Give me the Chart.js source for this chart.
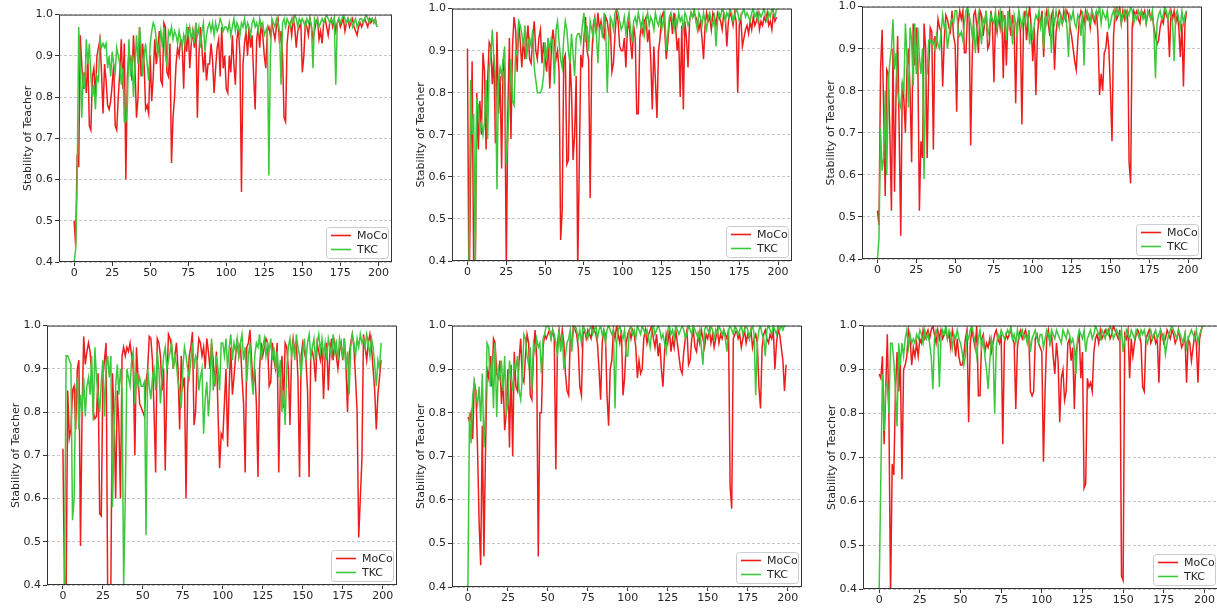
<html>
<head>
<script src="https://cdn.jsdelivr.net/npm/chart.js@4.4.0/dist/chart.umd.min.js"></script>
<style>
body { margin:0; background:#fff; overflow:hidden; width:1217px; height:609px; position:relative; }
canvas { position:absolute; }
</style>
</head>
<body>
<script>

var xTicks = [0,25,50,75,100,125,150,175,200];
var yTicks = [0.4,0.5,0.6,0.7,0.8,0.9,1.0];
var seriesNames = ['MoCo','TKC'];
var yTitle = 'Stability of Teacher';

// panel 1 (top left)
var moco1 = [
.50,.44,.66,.63,.95,.88,.82,.86,.81,.90, .73,.72,.85,.87,.80,.90,.92,.94,.86,.76,
.88,.84,.78,.77,.79,.83,.88,.73,.72,.80, .86,.94,.82,.93,.60,.85,.91,.89,.84,.95,
.87,.75,.80,.97,.85,.93,.88,.77,.78,.76, .90,.79,.85,.94,.88,.92,.96,.84,.83,.98,
.97,.86,.85,.93,.64,.75,.80,.88,.92,.90, .94,.93,.82,.95,.91,.97,.87,.93,.96,.92,
.98,.75,.90,.97,.92,.86,.91,.84,.88,.88, .93,.89,.81,.87,.92,.94,.85,.97,.87,.90,
.82,.81,.90,.86,.95,.88,.83,.94,.97,.90, .57,.88,.93,.96,.90,.97,.92,.95,.85,.77,
.94,.97,.92,.98,.95,.90,.87,.96,.97,.95, .98,.96,.94,.97,.99,.93,.96,.90,.75,.74,
.93,.97,.98,.95,.99,.97,.92,.96,.97,.98, .86,.90,.98,.97,.95,.99,.97,.94,.96,.98,
.99,.94,.96,.93,.98,.99,.97,.95,.98,.99, .97,.99,.96,.98,.99,.97,.98,.99,.96,.98,
.99,.97,.98,.99,.97,.96,.95,.97,.98,.97, .98,.99,.98,.97,.99,.98,.99,.98,.99,.97];
var tkc1 = [
.40,.43,.60,.97,.88,.75,.86,.82,.94,.88, .93,.85,.80,.83,.77,.85,.84,.94,.92,.93,
.92,.93,.87,.90,.85,.91,.88,.86,.92,.90, .88,.83,.87,.74,.74,.78,.94,.85,.90,.80,
.88,.95,.88,.97,.92,.85,.90,.93,.88,.84, .93,.96,.98,.97,.94,.90,.93,.96,.92,.97,
.90,.88,.96,.95,.97,.94,.96,.95,.93,.96, .94,.92,.95,.93,.97,.95,.97,.94,.96,.93,
.98,.95,.97,.92,.96,.98,.91,.95,.97,.98, .96,.98,.95,.98,.96,.97,.99,.98,.96,.97,
.97,.96,.98,.95,.97,.99,.96,.98,.97,.95, .98,.97,.99,.96,.98,.97,.95,.98,.99,.97,
.98,.96,.99,.97,.98,.95,.96,.97,.61,.90, .99,.98,.97,.99,.98,.96,.83,.98,.99,.97,
.99,.98,.97,.99,.98,1.0,.99,.97,.99,.98, .99,.98,.97,.99,.98,.99,.97,.87,.99,.98,
.99,.97,.98,.99,.98,.99,1.0,.99,.98,.99, .98,.99,.83,.98,.99,.98,.99,1.0,.99,.98,
.99,.98,.99,.97,.98,.99,.97,.98,.99,.99, .98,.99,1.0,.99,.98,.99,.99,.98,.99,.97];

// panel 2 (top middle)
var moco2 = [
.905,.30,.60,.875,.38,.35,.80,.665,.78,.70, .895,.85,.665,.83,.92,.91,.82,.89,.68,.945,
.75,.84,.62,.88,.85,.38,.75,.93,.69,.91, .98,.95,.85,.97,.92,.86,.93,.88,.92,.96,
.88,.87,.93,.97,.90,.88,.93,.95,.87,.92, .88,.85,.93,.81,.90,.95,.92,.88,.90,.85,
.45,.52,.88,.89,.63,.64,.88,.80,.64,.70, .84,.38,.63,.89,.86,.93,.98,.90,.88,.55,
.88,.96,.98,.94,.99,.95,.97,.94,.93,.98, .97,.94,.96,.85,.87,.94,.99,.97,.91,.90,
.90,.93,.86,.95,.97,.92,.88,.96,.93,.75, .75,.93,.96,.94,.97,.98,.92,.95,.88,.76,
.91,.83,.74,.90,.93,.98,.99,.95,.88,.92, .97,.98,.94,.99,.96,.90,.93,.79,.96,.76,
.97,.93,.86,.97,.99,.98,.99,.98,.97,.95, .97,.93,.88,.96,.99,.97,.98,.95,.99,.98,
.96,.99,.98,.97,.95,.99,.98,.91,.97,.99, .98,.96,.99,.97,.80,.96,.98,.91,.93,.95,
.96,.94,.97,.95,.98,.96,.97,.99,.95,.97, .96,.98,.97,.99,.96,.97,.95,.99,.97,.98];
var tkc2 = [
.35,.40,.83,.70,.75,.40,.78,.77,.71,.73, .70,.73,.83,.69,.86,.89,.95,.88,.84,.57,
.83,.86,.84,.88,.91,.63,.70,.79,.88,.78, .77,.90,.89,.97,.96,.94,.91,.96,.88,.92,
.93,.91,.95,.86,.83,.80,.80,.80,.81,.84, .92,.88,.93,.90,.93,.92,.82,.95,.97,.92,
.88,.86,.93,.97,.95,.90,.87,.94,.89,.84, .93,.94,.94,.92,.96,.99,.92,.96,.90,.97,
.95,.93,.98,.94,.87,.95,.96,.93,.99,.95, .80,.92,.98,.97,.95,.99,1.0,.99,.97,.95,
.96,.98,.94,.97,.99,.95,.92,.97,.98,.96, .99,.97,.95,.98,.94,.97,.99,.96,.98,.97,
.95,.99,.97,.96,.98,.95,.97,.99,.90,.94, .98,.99,.97,.95,.98,.96,.99,.97,.98,.95,
.99,.98,.96,.97,.99,.98,1.0,.97,.95,.99, .98,.96,.99,.97,.95,.98,.99,.97,.96,.98,
.91,.97,.99,.98,1.0,.99,.97,.99,.98,1.0, .99,.97,.98,1.0,.99,.97,.98,.99,1.0,.98,
.99,.98,.97,.99,1.0,.98,.99,.97,.99,.98, .99,1.0,.98,.97,.99,.98,1.0,.99,.98,1.0];

// panel 3 (top right)
var moco3 = [
.515,.48,.85,.945,.75,.55,.85,.84,.70,.515, .90,.56,.80,.93,.70,.455,.82,.78,.70,.85,
.90,.80,.63,.96,.86,.95,.87,.515,.68,.64, .96,.90,.64,.85,.95,.94,.66,.93,.91,.97,
.95,.94,.81,.92,.98,.97,.95,.94,.99,.93, .91,.75,.96,.99,.97,.99,.89,.89,.99,.98,
.67,.88,.98,.99,.95,.89,.99,.98,.93,.96, .99,.90,.91,.99,.96,.82,.97,.94,.98,.95,
.99,.83,.98,.86,.97,.99,.93,.98,.95,.77, .96,.98,.94,.72,.95,.99,.92,.97,1.0,.95,
.87,.95,.79,.93,.98,.96,.99,.88,.97,.99, .96,.93,.98,.99,.85,.94,.97,.99,.98,.96,
.99,.97,.99,.98,.95,.93,.90,.87,.85,.92, .97,.99,.98,.96,.99,.97,.98,.95,.99,.97,
.96,.99,.93,.79,.84,.80,.89,.90,.94,.90, .80,.68,.93,.99,.97,.98,1.0,.96,.99,.97,
.99,.98,.63,.58,.95,.99,.98,.99,.97,.96, .99,.98,.99,.96,.98,.99,.97,.98,.95,.93,
.91,.92,.95,.97,.96,.99,.98,.97,.88,.99, .97,.99,.96,.98,.95,.88,.96,.81,.96,.99];
var tkc3 = [
.40,.45,.71,.61,.64,.80,.60,.82,.87,.90, .97,.85,.89,.80,.77,.76,.82,.80,.96,.88,
.76,.95,.92,.81,.96,.84,.95,.88,.84,.90, .59,.84,.84,.92,.92,.91,.92,.90,.93,.91,
.90,.94,.98,.95,.96,.90,.93,.96,.97,.96, .99,.99,.94,.93,.94,.92,.96,.99,1.0,.98,
.96,.93,.96,.89,.94,.98,.95,.91,.97,.96, .99,.93,.95,.98,.97,.96,.99,.95,.97,.99,
.94,.98,.96,.92,.99,.95,.97,.91,.98,.96, .93,.99,.97,.95,.98,.96,.99,.97,.91,.96,
.92,.96,.98,.97,.99,.95,.97,.90,.98,.96, .99,.97,.89,.98,.96,.99,.97,.95,.98,.96,
.97,.99,.95,.88,.98,.97,.99,.96,.95,.98, .97,.93,.99,.86,.98,.99,.97,.96,.99,.98,
.97,.99,.98,1.0,.96,.99,.98,.97,.99,.95, .96,.98,.99,.97,1.0,.98,.99,.96,.98,.99,
.97,.99,.98,1.0,.99,.96,.98,.97,.99,.98, .99,.97,.98,.96,.99,.98,.97,.99,.94,.83,
.96,.98,.99,.97,.98,1.0,.99,.97,.99,.98, .96,.87,.98,.99,.97,.95,.99,.96,.98,.99];

// panel 4 (bottom left)
var moco4 = [
.715,.40,.38,.85,.74,.76,.85,.86,.76,.90, .92,.49,.80,.975,.91,.94,.96,.94,.89,.80,
.785,.79,.89,.565,.56,.88,.92,.96,.38,.36, .40,.89,.79,.60,.85,.77,.60,.93,.95,.93,
.95,.94,.96,.93,.90,.70,.95,.88,.82,.81, .80,.79,.87,.90,.975,.97,.92,.80,.66,.97,
.96,.93,.85,.90,.665,.86,.98,.97,.95,.90, .93,.96,.90,.76,.93,.86,.88,.60,.85,.93,
.95,.985,.77,.80,.92,.97,.96,.93,.95,.90, .97,.94,.90,.96,.92,.86,.94,.80,.67,.75,
.74,.82,.90,.72,.86,.95,.84,.88,.93,.97, .93,.96,.88,.82,.66,.95,.96,.99,.92,.86,
.90,.82,.65,.90,.96,.93,.95,.97,.96,.86, .87,.96,.92,.90,.96,.66,.88,.93,.81,.96,
.95,.90,.77,.93,.97,.94,.96,.88,.65,.93, .96,.94,.92,.85,.65,.93,.94,.92,.87,.96,
.94,.92,.95,.83,.93,.96,.85,.94,.97,.92, .96,.93,.90,.94,.96,.92,.97,.91,.80,.93,
.96,.98,.95,.88,.80,.51,.60,.69,.98,.95, .92,.96,.98,.95,.90,.85,.76,.84,.88,.92];
var tkc4 = [
.35,.40,.93,.93,.92,.91,.55,.60,.85,.88, .76,.84,.80,.88,.79,.86,.88,.84,.93,.78,
.95,.88,.84,.80,.87,.92,.79,.90,.93,.88, .93,.58,.75,.86,.91,.84,.90,.85,.40,.60,
.90,.88,.86,.92,.94,.82,.89,.86,.88,.86, .86,.87,.515,.90,.86,.83,.88,.90,.85,.94,
.90,.82,.88,.93,.95,.90,.92,.94,.96,.90, .93,.91,.87,.85,.81,.90,.95,.93,.90,.88,
.92,.96,.90,.93,.92,.85,.88,.90,.75,.83, .87,.79,.85,.97,.85,.88,.93,.90,.85,.96,
.96,.93,.97,.90,.95,.98,.92,.96,.94,.97, .93,.96,.98,.92,.95,.87,.93,.96,.88,.84,
.93,.96,.95,.98,.92,.95,.97,.93,.96,.94, .97,.92,.95,.90,.94,.88,.92,.80,.85,.77,
.90,.95,.97,.93,.96,.92,.98,.95,.93,.88, .94,.97,.92,.96,.98,.93,.95,.97,.92,.96,
.98,.94,.97,.93,.96,.92,.97,.95,.93,.98, .94,.96,.92,.97,.95,.93,.97,.90,.94,.84,
.95,.98,.96,.93,.97,.95,.98,.96,.97,.95, .98,.96,.93,.97,.95,.91,.86,.92,.90,.96];

// panel 5 (bottom middle)
var moco5 = [
.79,.78,.80,.74,.87,.85,.72,.55,.45,.77, .47,.71,.90,.88,.93,.86,.97,.96,.89,.88,
.92,.82,.88,.76,.80,.90,.72,.91,.70,.94, .86,.85,.92,.97,.88,.87,.93,.98,.96,.84,
.83,.93,.99,.93,.47,.80,.80,.95,.98,.97, .98,.99,.97,.99,.97,.67,.96,.99,.95,.99,
.96,.89,.85,.84,.97,.96,1.0,.99,.98,.95, .86,.84,.98,.99,.97,.99,.98,.97,1.0,.99,
.98,.96,.90,.83,.96,.99,.98,.84,.77,.90, .92,.99,.97,1.0,.98,.96,.99,.84,.88,.96,
.98,.99,.97,.99,.98,.95,.88,.92,.89,.90, .97,.99,.96,.98,.99,1.0,.97,.95,.98,.93,
.96,.90,.86,.94,.98,.96,.99,.94,.97,.95, .99,.96,.93,.90,.89,.94,.97,.99,.91,.92,
.97,.99,.95,.94,.98,.96,.99,.97,.95,.98, .97,.99,.96,.98,.95,.97,.99,.96,.98,.97,
.99,.98,.97,.99,.63,.58,.97,.98,.99,.97, .98,.95,.97,.99,.96,.98,.97,.99,.95,.97,
.98,.96,.86,.81,.95,.98,.99,.97,.96,.98, .97,.99,.90,.96,.99,.98,.95,.92,.85,.91];
var tkc5 = [
.40,.80,.73,.84,.87,.84,.82,.86,.78,.89, .72,.80,.96,.95,.86,.93,.81,.96,.79,.90,
.88,.92,.85,.93,.80,.82,.92,.88,.85,.91, .90,.93,.85,.83,.88,.98,.97,.93,.91,.95,
.85,.96,.94,.97,.95,.96,.89,.97,.98,1.0, 1.0,.99,.97,.99,.98,.96,.93,.99,.94,.98,
.90,.93,.96,.97,.99,.94,.99,1.0,.99,.97, .99,.96,1.0,.99,.98,.97,.99,1.0,.98,.99,
1.0,.97,.99,1.0,.98,.99,.96,.99,1.0,.99, .98,.99,.81,.96,.99,1.0,.98,.97,.99,.93,
.93,.99,1.0,.98,.99,.97,1.0,.99,.98,1.0, .99,.98,.99,.97,.95,.99,1.0,.98,.99,1.0,
.99,.97,.98,.96,.94,.99,1.0,.98,.99,.97, 1.0,.99,.98,.99,1.0,.99,.97,.98,1.0,.99,
.98,1.0,.99,.98,.97,.99,.95,.91,.99,1.0, .99,.98,1.0,.99,.97,.99,.98,1.0,.99,.98,
.99,.97,.94,.99,1.0,.99,.98,1.0,.99,.98, .99,1.0,.98,.99,1.0,.99,.97,.99,1.0,.98,
.84,.96,.99,1.0,.98,.97,.93,.99,1.0,.99, .98,1.0,.99,.98,1.0,.99,1.0,.99,1.0,1.0];

// panel 6 (bottom right)
var moco6 = [
.89,.88,.93,.73,.85,.98,.79,.38,.685,.66, .85,.94,.85,.92,.65,.90,.91,.93,.99,.97,
.91,.95,.93,.96,.93,.97,.96,.99,.97,.98, .99,.97,.99,1.0,.98,.96,.99,.97,.99,.97,
.98,.99,.97,.98,.95,.99,.97,.93,.97,.93, .91,.91,.93,.97,.99,.78,.96,.99,.97,.95,
1.0,.84,.84,.97,.98,.94,.96,.95,.97,.94, .96,.98,.99,.97,.96,.98,.73,.96,.98,.97,
.98,.99,.97,.96,.81,.95,.98,.99,.97,.98, .99,.97,.98,.85,.84,.85,.97,.98,.96,.95,
.94,.69,.85,.97,.99,.96,.98,.93,.89,.96, .92,.78,.88,.90,.83,.85,.96,.97,.92,.95,
.81,.94,.96,.98,.88,.94,.63,.64,.88,.86, .87,.85,.94,.97,.98,.96,.99,.97,.98,.99,
.98,.99,.97,.98,1.0,.99,.98,.97,.99,.43, .42,.98,.97,.99,.88,.97,.93,.96,.98,.99,
.98,.96,.86,.85,.97,.98,.99,.96,.97,.98, .96,.97,.87,.99,.98,.96,.97,.99,.98,.97,
.99,.98,.96,.97,.99,.97,.95,.96,.98,.87, .97,.96,.92,.95,.98,.96,.87,.97,.99,1.0];
var tkc6 = [
.40,.65,.89,.76,.86,.87,.80,.96,.96,.92, .85,.77,.96,.91,.96,.93,.97,.99,.95,.98,
.96,.97,.96,.98,.97,.99,.98,.96,.99,.97, .98,.96,.93,.855,.97,.99,.98,.86,.97,.99,
.98,1.0,.97,.99,.98,.95,.98,.97,.99,.97, .96,.94,.91,.93,.98,.97,.99,1.0,.98,.96,
.93,.97,.99,.95,.97,.93,.90,.855,.92,.97, .95,.80,.95,.98,.97,.99,.98,.97,.98,.99,
.98,1.0,.97,.98,.96,.99,.97,.98,.99,.97, .98,.96,.99,.94,.97,.98,.99,.97,.96,.98,
.98,.95,.97,.99,.98,.96,.99,.98,.97,.99, .98,.97,.96,.99,.98,.97,.99,.98,.96,.97,
.95,.89,.97,.99,.98,.97,.99,.94,.97,.98, .99,.97,.98,1.0,.99,.98,.97,.99,.98,.97,
.99,.98,1.0,.99,.97,.98,.99,.98,.97,.99, .94,.97,.99,.98,.97,.99,.98,.97,.99,.98,
.97,.99,.98,.99,.97,.96,.98,.99,.97,.98, .99,.97,.98,.99,.97,.98,.935,.96,.98,.99,
1.0,.99,.98,.97,.99,.98,.97,.96,.98,.95, .97,.98,.99,.98,.97,.99,.96,.98,.99,1.0];

// plot area of every panel: left, top, right, bottom
var panels = [
  {box:[59,14,392,262],  moco:moco1, tkc:tkc1},
  {box:[452,8,792,261],  moco:moco2, tkc:tkc2},
  {box:[862,6,1202,259], moco:moco3, tkc:tkc3},
  {box:[47,325,397,585], moco:moco4, tkc:tkc4},
  {box:[452,325,802,587],moco:moco5, tkc:tkc5},
  {box:[863,325,1219,589],moco:moco6, tkc:tkc6}
];

var RED = '#ee1c1c', GREEN = '#3cc83c';
var AXW = 41, PADT = 8, PADR = 8, AXH = 22;

Chart.defaults.font.family = 'DejaVu Sans';
Chart.defaults.font.size = 11;
Chart.defaults.color = '#262626';

// box round the plot and the legend in the lower right corner
var framePlugin = {
  id: 'frame',
  afterDraw: function(chart) {
    var ctx = chart.ctx, a = chart.chartArea;
    ctx.save();
    ctx.strokeStyle = '#333';
    ctx.lineWidth = 1;
    ctx.strokeRect(a.left + 0.5, a.top + 0.5, a.right - a.left - 1, a.bottom - a.top - 1);

    var w = 62, h = 31, x0 = a.right - 4 - w, y0 = a.bottom - 4 - h;
    ctx.fillStyle = 'rgba(255,255,255,0.85)';
    ctx.strokeStyle = '#cccccc';
    ctx.beginPath();
    ctx.roundRect(x0 + 0.5, y0 + 0.5, w, h, 3);
    ctx.fill();
    ctx.stroke();
    ctx.font = '11px "DejaVu Sans"';
    ctx.textBaseline = 'middle';
    chart.data.datasets.forEach(function(ds, i) {
      var yy = y0 + 8.5 + i * 14;
      ctx.strokeStyle = ds.borderColor;
      ctx.lineWidth = 1.6;
      ctx.beginPath();
      ctx.moveTo(x0 + 5, yy);
      ctx.lineTo(x0 + 25, yy);
      ctx.stroke();
      ctx.fillStyle = '#262626';
      ctx.fillText(ds.label, x0 + 31, yy + 0.5);
    });
    ctx.restore();
  }
};

panels.forEach(function(p) {
  var l = p.box[0], t = p.box[1], r = p.box[2], b = p.box[3];
  var cv = document.createElement('canvas');
  var W = r - l + AXW + PADR, H = b - t + PADT + AXH;
  cv.width = W; cv.height = H;
  cv.style.left = (l - AXW) + 'px';
  cv.style.top = (t - PADT) + 'px';
  cv.style.width = W + 'px';
  cv.style.height = H + 'px';
  document.body.appendChild(cv);

  new Chart(cv.getContext('2d'), {
    type: 'line',
    data: {
      datasets: [
        {label: seriesNames[0], data: p.moco.map(function(v, i){ return {x:i, y:v}; }),
         borderColor: RED, borderWidth: 1.5, pointRadius: 0, tension: 0, order: 1},
        {label: seriesNames[1], data: p.tkc.map(function(v, i){ return {x:i, y:v}; }),
         borderColor: GREEN, borderWidth: 1.5, pointRadius: 0, tension: 0, order: 0}
      ]
    },
    options: {
      responsive: false,
      animation: false,
      events: [],
      layout: {padding: {left:0, top:PADT, right:PADR, bottom:0}},
      plugins: {legend: {display:false}, tooltip: {enabled:false}},
      scales: {
        x: {
          type: 'linear', min: -9.95, max: 208.95,
          afterFit: function(s){ s.height = AXH; },
          afterBuildTicks: function(s){ s.ticks = xTicks.map(function(v){ return {value:v}; }); },
          ticks: {padding: 1, maxRotation: 0, autoSkip: false},
          grid: {drawOnChartArea:false, drawTicks:true, tickLength:4, tickColor:'#333'},
          border: {display:false}
        },
        y: {
          min: 0.4, max: 1.0,
          afterFit: function(s){ s.width = AXW; },
          afterBuildTicks: function(s){ s.ticks = yTicks.map(function(v){ return {value:v}; }); },
          ticks: {padding: 2, callback: function(v){ return v.toFixed(1); }},
          grid: {color:'#b8b8b8', lineWidth:0.8, tickLength:4, tickColor:'#333', tickBorderDash:[], tickWidth:1},
          border: {display:false, dash:[3,2]},
          title: {display:true, text:yTitle, padding:{top:4, bottom:2}}
        }
      }
    },
    plugins: [framePlugin]
  });
});
</script>
</body>
</html>
